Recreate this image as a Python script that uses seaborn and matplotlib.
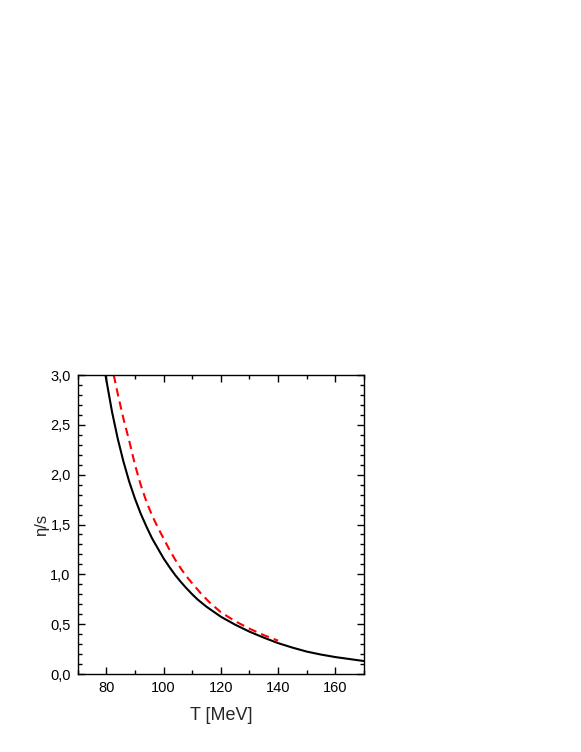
import numpy as np
import pandas as pd
import matplotlib
matplotlib.use("Agg")
import matplotlib.pyplot as plt
import seaborn as sns
from matplotlib.ticker import MultipleLocator, FuncFormatter

# data
T_black = [79.7, 82, 84, 86, 88, 90, 92, 94, 96, 98, 100, 102, 104, 106, 108,
           110, 112, 115, 120, 125, 130, 135, 140, 145, 150, 155, 160, 165, 170]
eta_black = [3.0, 2.63, 2.36, 2.13, 1.93, 1.76, 1.61, 1.48, 1.36, 1.26, 1.16,
             1.075, 0.995, 0.925, 0.86, 0.80, 0.745, 0.675, 0.575, 0.495, 0.425,
             0.365, 0.31, 0.265, 0.225, 0.195, 0.17, 0.15, 0.13]

T_red = [82.6, 84, 86, 88, 90, 92, 94, 96, 98, 100, 102, 104, 106, 108, 110,
         113, 116, 120, 125, 130, 135, 140]
eta_red = [3.0, 2.81, 2.56, 2.34, 2.10, 1.90, 1.73, 1.59, 1.47, 1.36, 1.25,
           1.15, 1.06, 0.98, 0.91, 0.81, 0.72, 0.62, 0.53, 0.455, 0.39, 0.335]

sns.set_style("ticks")
plt.rcParams["font.family"] = ["Liberation Sans", "DejaVu Sans"]

fig = plt.figure(figsize=(5.81, 7.52), dpi=100)
ax = fig.add_axes([0.1337, 0.1037, 0.4928, 0.3976])

df_black = pd.DataFrame({"T": T_black, "eta": eta_black})
df_red = pd.DataFrame({"T": T_red, "eta": eta_red})

sns.lineplot(data=df_black, x="T", y="eta", ax=ax, color="black",
             linewidth=1.5, sort=False, estimator=None)
sns.lineplot(data=df_red, x="T", y="eta", ax=ax, color="red",
             linewidth=1.5, sort=False, estimator=None,
             linestyle=(0, (4, 2.5)))

ax.set_xlim(70, 170)
ax.set_ylim(0, 3.0)
ax.xaxis.set_major_locator(MultipleLocator(20))
ax.xaxis.set_minor_locator(MultipleLocator(10))
ax.yaxis.set_major_locator(MultipleLocator(0.5))
ax.yaxis.set_minor_locator(MultipleLocator(0.1))
ax.yaxis.set_major_formatter(FuncFormatter(lambda v, p: f"{v:.1f}".replace(".", ",")))
ax.xaxis.set_major_formatter(FuncFormatter(lambda v, p: f"{v:.0f}"))

ax.tick_params(which="both", direction="in", top=True, right=True,
               labelsize=10.5, width=1, colors="black")
ax.tick_params(which="major", length=5, pad=5)
ax.tick_params(which="minor", length=3)
for s in ax.spines.values():
    s.set_linewidth(1)
    s.set_color("black")

ax.set_xlabel("T [MeV]", fontsize=13, labelpad=9)
ax.set_ylabel("η/s", fontsize=12, labelpad=1)

fig.savefig("out.png", dpi=100)
